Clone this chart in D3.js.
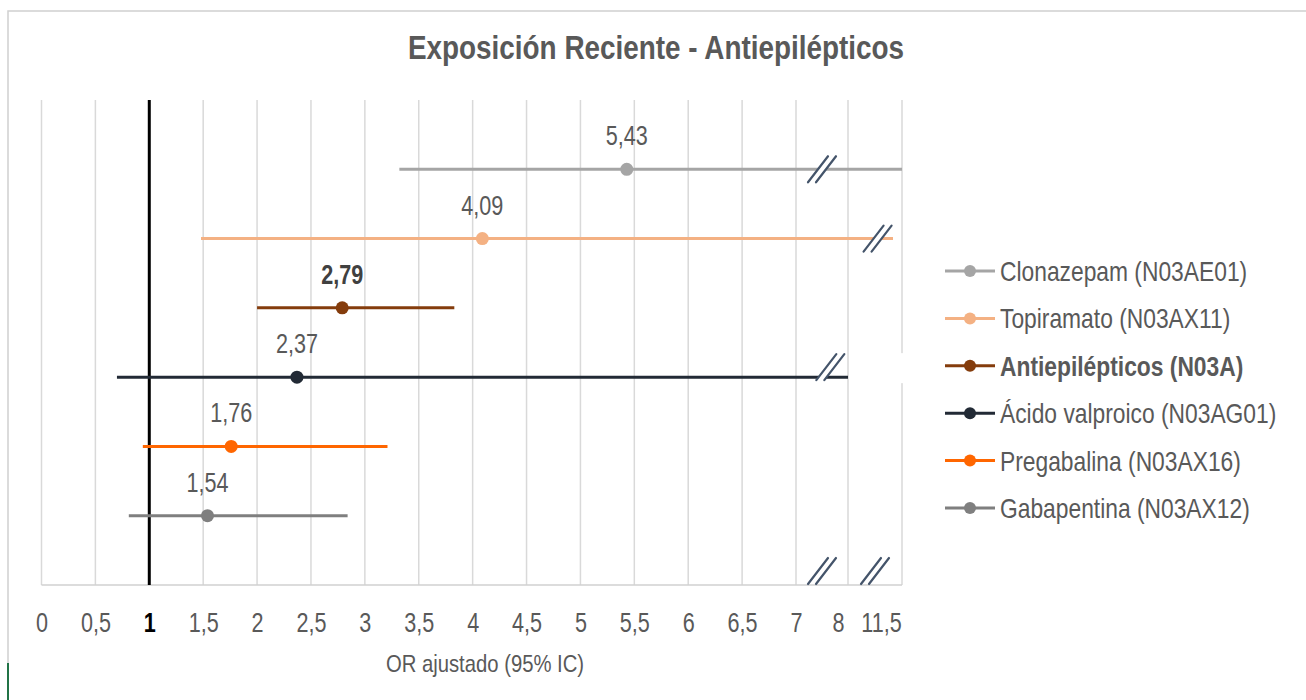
<!DOCTYPE html>
<html>
<head>
<meta charset="utf-8">
<script src="https://cdn.jsdelivr.net/npm/d3@7"></script>
<style>
  html, body { margin: 0; padding: 0; background: #fff; }
  svg { display: block; }
  text { font-family: "Liberation Sans", Arial, sans-serif; }
</style>
</head>
<body>
<svg id="chart" width="1306" height="700"></svg>
<script>
// ---- Data ----
const title = "Exposición Reciente - Antiepilépticos";
const xTitle = "OR ajustado (95% IC)";
const series = ["Clonazepam (N03AE01)", "Topiramato (N03AX11)", "Antiepilépticos (N03A)",
                "Ácido valproico (N03AG01)", "Pregabalina (N03AX16)", "Gabapentina (N03AX12)"];
const orValues = [5.43, 4.09, 2.79, 2.37, 1.76, 1.54];
const ciLower  = [3.32, 1.48, 2.00, 0.70, 0.94, 0.81];
const ciUpper  = [13.0, 11.5, 3.83, 8.0, 3.21, 2.84];
const colors   = ["#A5A5A5", "#F4B183", "#843C0C", "#222A35", "#FF6600", "#7F7F7F"];
const rowPos   = [6, 5, 4, 3, 2, 1];
const boldRow  = [false, false, true, false, false, false];
// break marks on series lines (value on broken axis)
const seriesBreaks = [[7.5], [10.3], [], [7.66], [], []];
const axisBreaks = [7.5, 10.1];
const tickValues = [0, 0.5, 1, 1.5, 2, 2.5, 3, 3.5, 4, 4.5, 5, 5.5, 6, 6.5, 7, 8, 11.5];
const tickLabels = ["0", "0,5", "1", "1,5", "2", "2,5", "3", "3,5", "4", "4,5", "5", "5,5", "6", "6,5", "7", "8", "11,5"];
const gridValues = [0, 0.5, 1, 1.5, 2, 2.5, 3, 3.5, 4, 4.5, 5, 5.5, 6, 6.5, 7, 8, 12.5];

// ---- Layout ----
const svg = d3.select("#chart");
const pLeft = 41.5, pRight = 902, pTop = 100, pBottom = 585;
const SX = 0.8;   // horizontal condensation of tick / data labels
const SX2 = 0.845; // horizontal condensation of title / legend / axis title

function addText(parent, x, y, str, size, opts = {}) {
  const g = parent.append("g").attr("transform", `translate(${x},${y})`);
  return g.append("text")
    .attr("transform", `scale(${opts.sx || SX},1)`)
    .attr("text-anchor", opts.anchor || "start")
    .attr("font-size", size)
    .attr("font-weight", opts.bold ? "bold" : "normal")
    .attr("fill", opts.fill || "#595959")
    .text(str);
}

// broken (piecewise) axis
const x = d3.scaleLinear()
  .domain([0, 7, 8, 11.5, 12.5])
  .range([pLeft, 796, 848, 893, pRight])
  .clamp(true);
const y = d3.scaleLinear().domain([0, 7]).range([pBottom, pTop]);

// outer frame
svg.append("rect").attr("x", 8).attr("y", 11).attr("width", 1310).attr("height", 700)
  .attr("fill", "none").attr("stroke", "#d0d0d0").attr("stroke-width", 1.5);
svg.append("line").attr("x1", 8).attr("x2", 8).attr("y1", 663).attr("y2", 700)
  .attr("stroke", "#217346").attr("stroke-width", 2);

// title
addText(svg, 656, 59, title, 33, {anchor: "middle", bold: true, sx: SX2});

// gridlines
svg.append("g").selectAll("line").data(gridValues).join("line")
  .attr("x1", d => x(d)).attr("x2", d => x(d))
  .attr("y1", pTop).attr("y2", pBottom)
  .attr("stroke", "#d9d9d9").attr("stroke-width", 1.5);

// axis baseline
svg.append("line").attr("x1", pLeft).attr("x2", pRight).attr("y1", pBottom).attr("y2", pBottom)
  .attr("stroke", "#d0d0d0").attr("stroke-width", 1.5);

// reference line at OR = 1
svg.append("line").attr("x1", x(1)).attr("x2", x(1)).attr("y1", pTop).attr("y2", pBottom)
  .attr("stroke", "#000").attr("stroke-width", 3);

// tick labels via d3 axis
const axis = d3.axisBottom(x).tickValues(tickValues)
  .tickFormat((d, i) => tickLabels[i]).tickSize(0).tickPadding(0);
const axG = svg.append("g").attr("transform", `translate(0,${pBottom})`).call(axis);
axG.select(".domain").remove();
axG.selectAll("text")
  .attr("y", 47).attr("dy", 0)
  .attr("transform", d => `translate(${d === 8 ? -10 : d === 11.5 ? -12 : 0},0) scale(${SX},1)`)
  .attr("font-size", 27)
  .attr("fill", d => d === 1 ? "#000" : "#595959")
  .attr("font-weight", d => d === 1 ? "bold" : "normal")
  .style("font-family", "'Liberation Sans', Arial, sans-serif");

// axis title
addText(svg, 485, 672, xTitle, 24, {anchor: "middle", sx: SX2});

// series
const rows = series.map((s, i) => ({name: s, or: orValues[i], lo: ciLower[i], hi: ciUpper[i],
  color: colors[i], pos: rowPos[i], bold: boldRow[i], breaks: seriesBreaks[i]}));

const gS = svg.append("g");
rows.forEach(r => {
  const yy = y(r.pos);
  gS.append("line").attr("x1", x(r.lo)).attr("x2", x(r.hi)).attr("y1", yy).attr("y2", yy)
    .attr("stroke", r.color).attr("stroke-width", 3);
  gS.append("circle").attr("cx", x(r.or)).attr("cy", yy).attr("r", 6.5).attr("fill", r.color);
  addText(gS, x(r.or), yy - 24, d3.format(".2f")(r.or).replace(".", ","), 27,
    {anchor: "middle", bold: r.bold, fill: r.bold ? "#404040" : "#595959"});
});

// white mask to the right of valproic line (as in reference)
const vp = rows[3];
svg.append("rect").attr("x", x(vp.hi) + 1).attr("y", y(vp.pos) - 24)
  .attr("width", 60).attr("height", 30).attr("fill", "#fff");

// break mark drawer
function breakMark(cx, cy) {
  const g = svg.append("g").attr("transform", `translate(${cx},${cy})`);
  g.append("path").attr("d", "M-14,13 L6,-13 L14,-13 L-6,13 Z").attr("fill", "#fff");
  g.append("line").attr("x1", -14).attr("y1", 13).attr("x2", 6).attr("y2", -13)
    .attr("stroke", "#44546A").attr("stroke-width", 2.2).attr("stroke-linecap", "round");
  g.append("line").attr("x1", -6).attr("y1", 13).attr("x2", 14).attr("y2", -13)
    .attr("stroke", "#44546A").attr("stroke-width", 2.2).attr("stroke-linecap", "round");
}
rows.forEach(r => r.breaks.forEach(b => breakMark(x(b), y(r.pos) - (r.pos === 3 ? 10 : 0))));
axisBreaks.forEach(b => breakMark(x(b), pBottom - 14));

// legend
const lg = svg.append("g");
const legY0 = 271, legStep = 47.4;
rows.forEach((r, i) => {
  const yy = legY0 + i * legStep;
  lg.append("line").attr("x1", 945).attr("x2", 995).attr("y1", yy).attr("y2", yy)
    .attr("stroke", r.color).attr("stroke-width", 3);
  lg.append("circle").attr("cx", 970).attr("cy", yy).attr("r", 6).attr("fill", r.color);
  addText(lg, 1000, yy + 10, r.name, 27, {bold: r.bold, sx: SX2});
});
</script>
</body>
</html>
